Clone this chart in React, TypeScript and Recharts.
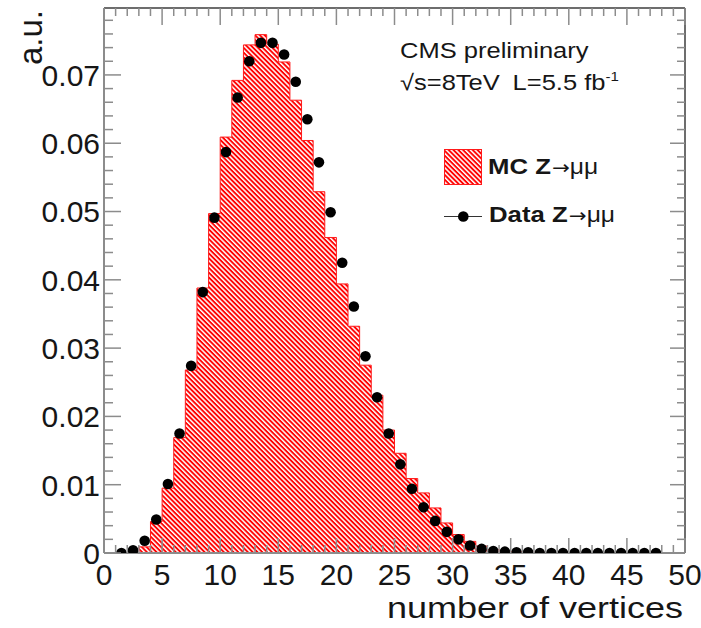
import React from 'react';
import { ComposedChart, Area, Scatter, XAxis, YAxis, Legend, Label } from 'recharts';

// MC histogram: lower edge of each unit-wide bin and its normalised content
const binLowEdges = [
  0, 1, 2, 3, 4, 5, 6, 7, 8, 9, 10, 11, 12, 13, 14, 15, 16, 17, 18, 19, 20, 21, 22, 23, 24,
  25, 26, 27, 28, 29, 30, 31, 32, 33, 34, 35, 36, 37, 38, 39, 40, 41, 42, 43, 44, 45, 46, 47, 48, 49,
];
const mcFraction = [
  0, 0, 0.0001, 0.0009, 0.0046, 0.0095, 0.0169, 0.0268, 0.0388, 0.0497,
  0.0609, 0.0692, 0.0744, 0.0759, 0.0745, 0.0719, 0.0663, 0.0604, 0.0529, 0.0462,
  0.0394, 0.0332, 0.0275, 0.0231, 0.018, 0.0146, 0.0109, 0.0088, 0.0066, 0.0044,
  0.0027, 0.0017, 0.001, 0.0005, 0.0003, 0.0002, 0.0001, 0.0001, 0, 0,
  0, 0, 0, 0, 0, 0, 0, 0, 0, 0,
];
const lastEdge = 50;

// data points sit at the bin centres
const dataBinCenters = [
  1.5, 2.5, 3.5, 4.5, 5.5, 6.5, 7.5, 8.5, 9.5, 10.5, 11.5, 12.5, 13.5, 14.5, 15.5, 16.5,
  17.5, 18.5, 19.5, 20.5, 21.5, 22.5, 23.5, 24.5, 25.5, 26.5, 27.5, 28.5, 29.5, 30.5, 31.5,
  32.5, 33.5, 34.5, 35.5, 36.5, 37.5, 38.5, 39.5, 40.5, 41.5, 42.5, 43.5, 44.5, 45.5, 46.5, 47.5,
];
const dataFraction = [
  0.0, 0.0004, 0.0018, 0.0049, 0.0101, 0.0175, 0.0274, 0.0382, 0.0491, 0.0587, 0.0667, 0.072,
  0.0747, 0.0747, 0.073, 0.069, 0.0635, 0.0572, 0.0499, 0.0425, 0.0361, 0.0288, 0.0228, 0.0175,
  0.013, 0.0094, 0.0067, 0.0047, 0.0031, 0.002, 0.0011, 0.0006, 0.0003, 0.0002, 0.0001, 0.0001,
  0, 0, 0, 0, 0, 0, 0, 0, 0, 0, 0,
];

const xTicks = Array.from({ length: 51 }, (_, i) => i);
const yTicks = Array.from({ length: 40 }, (_, i) => Number((i * 0.002).toFixed(3)));

const mcRows = [
  ...binLowEdges.map((x, i) => ({ x, y: mcFraction[i] })),
  { x: lastEdge, y: mcFraction[mcFraction.length - 1] },
];
const dataRows = dataBinCenters.map((x, i) => ({ x, y: dataFraction[i] }));

const FONT = '"Liberation Sans", Arial, Helvetica, sans-serif';
const INK = '#161616';
const RED = '#ff1a1a';
const TICK = '#8c8c8c';
const FRAME_DARK = '#3c3c3c';

const isMajorX = (v: number) => v % 5 === 0;
const isMajorY = (v: number) => Math.abs(v * 100 - Math.round(v * 100)) < 1e-6;

function BottomTick({ x, y, payload }: any) {
  const major = isMajorX(payload.value);
  return (
    <g>
      <line x1={x} y1={y} x2={x} y2={y - (major ? 15 : 8)} stroke={TICK} strokeWidth={1.5} />
      {major && (
        <text x={x} y={y + 32} textAnchor="middle" fontSize={30} fontFamily={FONT} fill={INK}>
          {payload.value}
        </text>
      )}
    </g>
  );
}

function TopTick({ x, y, payload }: any) {
  const major = isMajorX(payload.value);
  return <line x1={x} y1={y} x2={x} y2={y + (major ? 17 : 8)} stroke={TICK} strokeWidth={1.5} />;
}

function LeftTick({ x, y, payload }: any) {
  const v = payload.value;
  const major = isMajorY(v);
  return (
    <g>
      <line x1={x} y1={y} x2={x + (major ? 17 : 9)} y2={y} stroke={TICK} strokeWidth={1.5} />
      {major && (
        <text x={x - 4} y={y} dy="0.36em" textAnchor="end" fontSize={30} fontFamily={FONT} fill={INK}>
          {v === 0 ? '0' : v.toFixed(2)}
        </text>
      )}
    </g>
  );
}

function RightTick({ x, y, payload }: any) {
  const major = isMajorY(payload.value);
  return <line x1={x} y1={y} x2={x - (major ? 15 : 8)} y2={y} stroke={TICK} strokeWidth={1.5} />;
}

function Hatch({ id }: { id: string }) {
  return (
    <pattern id={id} patternUnits="userSpaceOnUse" width={10} height={3.4} patternTransform="rotate(45)">
      <rect x={0} y={0} width={10} height={3.4} fill="#fff" />
      <rect x={0} y={0} width={10} height={1.9} fill="#ff0000" />
    </pattern>
  );
}

function CmsText(props: any) {
  const vb = props.viewBox || { x: 104, y: 0 };
  const left = vb.x + 296;
  return (
    <g fontFamily={FONT} fill={INK}>
      <g transform={`translate(${left},58) scale(1.16,1)`}>
        <text fontSize={22}>CMS preliminary</text>
      </g>
      <g transform={`translate(${left},90) scale(1.16,1)`}>
        <text fontSize={22}>
          √s=8TeV
          <tspan dx={11}>L=5.5 fb</tspan>
          <tspan dy={-9} fontSize={13}>-1</tspan>
        </text>
      </g>
    </g>
  );
}

function XTitle(props: any) {
  const vb = props.viewBox || { x: 104, y: 553, width: 581 };
  return (
    <g transform={`translate(${vb.x + vb.width - 2},${vb.y + 65}) scale(1.2,1)`}>
      <text textAnchor="end" fontSize={30} fontFamily={FONT} fill={INK}>
        number of vertices
      </text>
    </g>
  );
}

function YTitle(props: any) {
  const vb = props.viewBox || { x: 0, y: 8 };
  return (
    <text
      transform={`translate(${vb.x + 42},${vb.y + 2}) rotate(-90)`}
      textAnchor="end"
      fontSize={33}
      fontFamily={FONT}
      fill={INK}
    >
      a.u.
    </text>
  );
}

function ZMuMu({ label }: { label: string }) {
  return (
    <text fontSize={23} fontFamily={FONT} fill={INK}>
      <tspan fontWeight="bold">{label} Z</tspan>
      <tspan fontFamily='"DejaVu Sans", sans-serif' fontSize={19} dx={1}>→</tspan>
      <tspan fontSize={22}>μμ</tspan>
    </text>
  );
}

function HistLegend() {
  return (
    <svg width={210} height={100} style={{ display: 'block', overflow: 'visible' }}>
      <defs>
        <Hatch id="hatchLegend" />
      </defs>
      <rect x={4.5} y={9.5} width={37} height={35} fill="url(#hatchLegend)" stroke={RED} strokeWidth={1} />
      <g transform="translate(48,33.5) scale(1.12,1)">
        <ZMuMu label="MC" />
      </g>
      <line x1={4} x2={42} y1={76.5} y2={76.5} stroke="#333" strokeWidth={1.2} />
      <circle cx={23.3} cy={76.5} r={5.3} fill="#000" />
      <g transform="translate(49,81.7) scale(1.12,1)">
        <ZMuMu label="Data" />
      </g>
    </svg>
  );
}

export default function App() {
  return (
    <div style={{ position: 'absolute', left: 0, top: 0, background: '#fff' }}>
      <ComposedChart width={701} height={628} data={mcRows} margin={{ top: 0, right: 0, bottom: 0, left: 0 }}>
        <defs>
          <Hatch id="hatchMC" />
        </defs>
        <Area
          type="stepAfter"
          dataKey="y"
          name="MC Z→μμ"
          baseValue={0}
          stroke={RED}
          strokeWidth={1}
          fill="url(#hatchMC)"
          fillOpacity={1}
          dot={false}
          activeDot={false}
          isAnimationActive={false}
        />
        <Scatter
          data={dataRows}
          name="Data Z→μμ"
          fill="#000"
          shape={(p: any) => <circle cx={p.cx} cy={p.cy} r={5.3} fill="#000" />}
          isAnimationActive={false}
        />
        <XAxis
          xAxisId={0}
          type="number"
          dataKey="x"
          domain={[0, 50]}
          allowDataOverflow
          ticks={xTicks}
          interval={0}
          height={75}
          tickSize={0}
          tickMargin={0}
          tickLine={false}
          axisLine={{ stroke: TICK, strokeWidth: 2 }}
          tick={<BottomTick />}
        >
          <Label content={<XTitle />} />
        </XAxis>
        <XAxis
          xAxisId="top"
          orientation="top"
          type="number"
          dataKey="x"
          domain={[0, 50]}
          allowDataOverflow
          ticks={xTicks}
          interval={0}
          height={8}
          tickSize={0}
          tickMargin={0}
          tickLine={false}
          axisLine={{ stroke: FRAME_DARK, strokeWidth: 1.5 }}
          tick={<TopTick />}
        >
          <Label content={<CmsText />} />
        </XAxis>
        <YAxis
          yAxisId={0}
          type="number"
          dataKey="y"
          domain={[0, 0.0798]}
          allowDataOverflow
          ticks={yTicks}
          interval={0}
          width={104}
          tickSize={0}
          tickMargin={0}
          tickLine={false}
          axisLine={{ stroke: TICK, strokeWidth: 2 }}
          tick={<LeftTick />}
        >
          <Label content={<YTitle />} />
        </YAxis>
        <YAxis
          yAxisId="right"
          orientation="right"
          type="number"
          domain={[0, 0.0798]}
          allowDataOverflow
          ticks={yTicks}
          interval={0}
          width={16}
          tickSize={0}
          tickMargin={0}
          tickLine={false}
          axisLine={{ stroke: FRAME_DARK, strokeWidth: 1.5 }}
          tick={<RightTick />}
        />
        <Legend
          layout="vertical"
          align="center"
          verticalAlign="middle"
          wrapperStyle={{ left: 440, top: 140, width: 210, height: 100 }}
          content={() => <HistLegend />}
        />
      </ComposedChart>
    </div>
  );
}
